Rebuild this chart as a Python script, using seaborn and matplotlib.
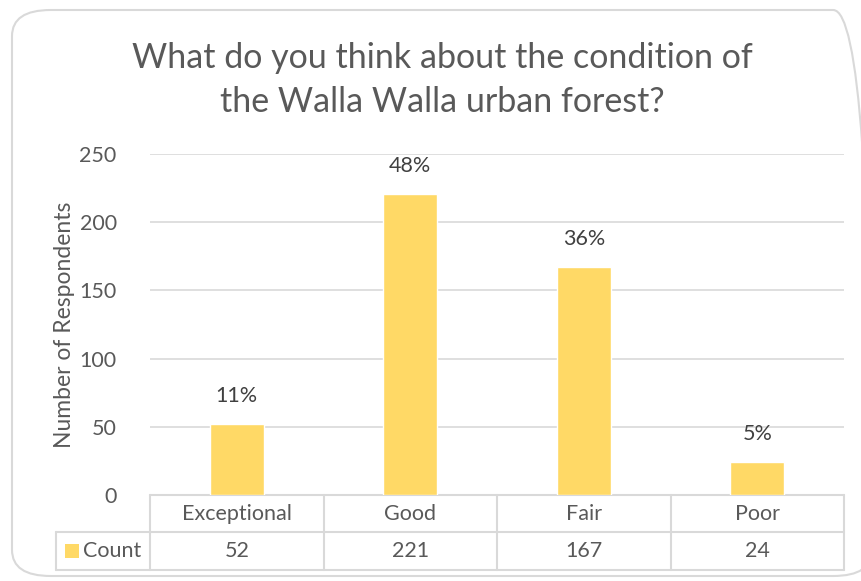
import seaborn as sns
import matplotlib.pyplot as plt
import pandas as pd
from matplotlib.patches import FancyBboxPatch
from matplotlib.transforms import blended_transform_factory

# survey results
categories = ["Exceptional", "Good", "Fair", "Poor"]
counts = [52, 221, 167, 24]
pct_labels = ["11%", "48%", "36%", "5%"]
series_name = "Count"
yticks = [0, 50, 100, 150, 200, 250]

df = pd.DataFrame({"condition": categories, "count": counts})

sns.set_style("white")
plt.rcParams["font.family"] = ["Lato", "DejaVu Sans"]

W, H = 862, 581
fig = plt.figure(figsize=(W / 100, H / 100), dpi=100)

# rounded chart border (Excel style)
border = FancyBboxPatch((12 / W, 1 - 576 / H), (872 - 12) / W, (576 - 10) / H,
                        boxstyle="round,pad=0,rounding_size=0.045",
                        transform=fig.transFigure, facecolor="none",
                        edgecolor="#D9D9D9", linewidth=1.5, zorder=-1)
fig.patches.append(border)

ax = fig.add_axes([150 / W, 1 - 495 / H, (844 - 150) / W, (495 - 154) / H])
ax.patch.set_alpha(0)

sns.barplot(data=df, x="condition", y="count", color="#FFD966", width=0.31,
            saturation=1, ax=ax, zorder=3)

ax.set_ylim(0, 250)
ax.set_xlim(-0.5, len(categories) - 0.5)
ax.set_yticks(yticks)
ax.set_yticklabels([str(t) for t in yticks], fontsize=15.5, color="#595959")
ax.tick_params(axis="y", length=0, pad=24)
ax.set_xticks([])
ax.set_xlabel("")
ax.set_ylabel("Number of Respondents", fontsize=16.5, color="#595959", labelpad=3)
ax.yaxis.grid(True, color="#D9D9D9", linewidth=1.2, zorder=0)
for s in ax.spines.values():
    s.set_visible(False)

# percentage labels above bars
for i, (c, lab) in enumerate(zip(counts, pct_labels)):
    ax.annotate(lab, (i, c), xytext=(0, 13), textcoords="offset points",
                ha="center", va="bottom", fontsize=15.5, color="#404040")

# data table under the plot
tr = blended_transform_factory(ax.transData, ax.transAxes)
ax_h = 495 - 154
row1 = -(532 - 495) / ax_h
row2 = -(570 - 495) / ax_h
grid_kw = dict(color="#D9D9D9", linewidth=1.5, clip_on=False, zorder=1)
left_x = -0.5 - (150 - 56) / ((844 - 150) / len(categories))

ax.plot([-0.5, 3.5], [0, 0], transform=tr, **grid_kw)
ax.plot([left_x, 3.5], [row1, row1], transform=tr, **grid_kw)
ax.plot([left_x, 3.5], [row2, row2], transform=tr, **grid_kw)
for xb in [-0.5, 0.5, 1.5, 2.5, 3.5]:
    ax.plot([xb, xb], [0, row2], transform=tr, **grid_kw)
ax.plot([left_x, left_x], [row1, row2], transform=tr, **grid_kw)

for i, (cat, c) in enumerate(zip(categories, counts)):
    ax.text(i, row1 / 2, cat, transform=tr, ha="center", va="center",
            fontsize=15.5, color="#595959")
    ax.text(i, (row1 + row2) / 2, str(c), transform=tr, ha="center",
            va="center", fontsize=15.5, color="#595959")

# legend key + series name
fig.patches.append(plt.Rectangle((65 / W, 1 - 558 / H), 14 / W, 14 / H,
                                 transform=fig.transFigure,
                                 facecolor="#FFD966", edgecolor="none"))
fig.text(83 / W, 1 - 551 / H, series_name, color="#595959", fontsize=15.5,
         ha="left", va="center")

fig.text(442 / W, 1 - 80 / H,
         "What do you think about the condition of\nthe Walla Walla urban forest?",
         ha="center", va="center", fontsize=24.5, color="#595959",
         linespacing=1.45)

fig.savefig("out.png", dpi=100)
